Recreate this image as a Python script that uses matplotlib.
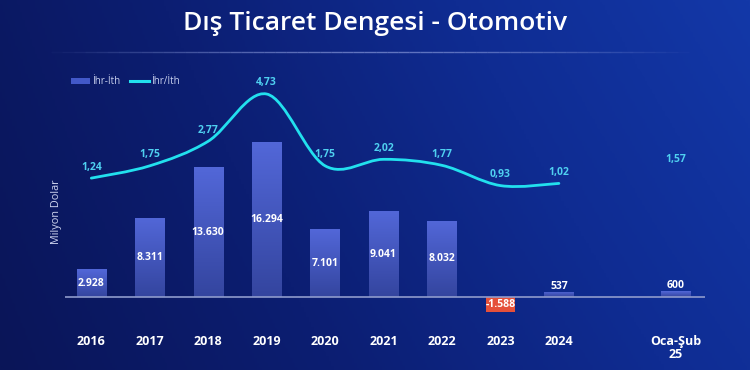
import numpy as np
import matplotlib
matplotlib.use("Agg")
import matplotlib.pyplot as plt
from matplotlib.path import Path
from matplotlib.patches import PathPatch, Rectangle
from matplotlib.lines import Line2D
from matplotlib.collections import LineCollection
from matplotlib.colors import LinearSegmentedColormap

categories = ["2016", "2017", "2018", "2019", "2020", "2021", "2022", "2023", "2024", "Oca-Şub\n25"]
balance = [2928, 8311, 13630, 16294, 7101, 9041, 8032, -1588, 537, 600]
balance_labels = ["2.928", "8.311", "13.630", "16.294", "7.101", "9.041", "8.032", "-1.588", "537", "600"]
ratio = [1.24, 1.75, 2.77, 4.73, 1.75, 2.02, 1.77, 0.93, 1.02, 1.57]
ratio_labels = ["1,24", "1,75", "2,77", "4,73", "1,75", "2,02", "1,77", "0,93", "1,02", "1,57"]
n_line = 9  # line drawn for yearly points only

plt.rcParams['font.family'] = ['Open Sans', 'DejaVu Sans']

W, H = 750, 370
fig = plt.figure(figsize=(W / 100, H / 100), dpi=100)

# background gradient
bg = fig.add_axes([0, 0, 1, 1])
bg.set_axis_off()
xx, yy = np.meshgrid(np.linspace(0, 1, 300), np.linspace(0, 1, 150))
g = np.clip(0.75 * xx + 0.15 * (1 - yy) + 0.1 * xx * (1 - yy), 0, 1)
bg_cmap = LinearSegmentedColormap.from_list("bg", ["#0a1558", "#0c1e72", "#0f2c92", "#1338a8"])
bg.imshow(g, cmap=bg_cmap, aspect="auto", extent=[0, 1, 0, 1], origin="upper")
bg.set_xlim(0, 1)
bg.set_ylim(0, 1)

# thin line under the title
lx = np.linspace(40 / W, 700 / W, 60)
ly = np.full_like(lx, 1 - 52 / H)
segs = np.stack([np.column_stack([lx[:-1], ly[:-1]]), np.column_stack([lx[1:], ly[1:]])], axis=1)
alph = np.sin(np.linspace(0, np.pi, len(lx) - 1)) * 0.6
cols = [(0.6, 0.66, 0.9, a) for a in alph]
bg.add_collection(LineCollection(segs, colors=cols, lw=1.0))

# axes geometry
top_px, bot_px = 60, 320
left_px, right_px = 65, 705
ax = fig.add_axes([left_px / W, (H - bot_px) / H, (right_px - left_px) / W, (bot_px - top_px) / H])
ax.set_facecolor("none")
for s in ax.spines.values():
    s.set_visible(False)

xpos = np.r_[np.arange(9), 10]
ax.set_xlim(-0.45, 10.5)
bscale = 0.00951  # px per unit
ax.set_ylim(-(bot_px - 297) / bscale, (297 - top_px) / bscale)

bar_cmap = LinearSegmentedColormap.from_list("bar", ["#34459f", "#5267d8"])
bars = ax.bar(xpos, balance, width=0.5, color="none", edgecolor="none", zorder=2)
for b, v in zip(bars, balance):
    x0, w = b.get_x(), b.get_width()
    y0, h = b.get_y(), b.get_height()
    if v < 0:
        r = Rectangle((x0, y0), w, h, facecolor="#e5503a", edgecolor="none", zorder=2)
        ax.add_patch(r)
    else:
        grad = np.linspace(1, 0, 100).reshape(-1, 1)
        im = ax.imshow(grad, cmap=bar_cmap, aspect="auto",
                       extent=[x0, x0 + w, y0, y0 + h], zorder=2, vmin=0, vmax=1)
        im.set_clip_path(b)
        b.set_facecolor("none")

ax.axhline(0, color="#8f9bcc", lw=1.2, zorder=3)

for x, v, lab in zip(xpos, balance, balance_labels):
    if abs(v) < 1200 and v > 0:
        ax.text(x, v, lab, ha="center", va="bottom", color="white", fontsize=7.5, fontweight="bold", zorder=5)
    else:
        ax.text(x, v / 2, lab, ha="center", va="center", color="white", fontsize=7.5, fontweight="bold", zorder=5)

ax.set_xticks(xpos)
ax.set_xticklabels(categories, color="white", fontsize=9, fontweight="bold", linespacing=1.0)
ax.tick_params(axis="x", length=0, pad=11)
ax.set_yticks([])

# line axis
ax2 = ax.twinx()
ax2.set_facecolor("none")
for s in ax2.spines.values():
    s.set_visible(False)
lscale = 24.1
ax2.set_ylim(-(bot_px - 208) / lscale, (208 - top_px) / lscale)
ax2.set_yticks([])

# smooth line (Catmull-Rom via cubic Bezier)
px = xpos[:n_line].astype(float)
py = np.array(ratio[:n_line])
verts = [(px[0], py[0])]
codes = [Path.MOVETO]
for i in range(len(px) - 1):
    p0 = (px[i - 1], py[i - 1]) if i > 0 else (px[i], py[i])
    p1 = (px[i], py[i])
    p2 = (px[i + 1], py[i + 1])
    p3 = (px[i + 2], py[i + 2]) if i + 2 < len(px) else p2
    t = 1.0 / 3
    c1 = (p1[0] + (p2[0] - p0[0]) * t / 2, p1[1] + (p2[1] - p0[1]) * t / 2)
    c2 = (p2[0] - (p3[0] - p1[0]) * t / 2, p2[1] - (p3[1] - p1[1]) * t / 2)
    verts += [c1, c2, p2]
    codes += [Path.CURVE4] * 3
ax2.add_patch(PathPatch(Path(verts, codes), facecolor="none", edgecolor="#22e0ee", lw=2.0,
                        capstyle="round", zorder=6))

for x, v, lab in zip(xpos, ratio, ratio_labels):
    ax2.annotate(lab, (x, v), xytext=(0, 4), textcoords="offset points", ha="center", va="bottom",
                 color="#4fd0f0", fontsize=7.5, fontweight="bold", zorder=7)

# title
fig.text(0.5, 1 - 23 / H, "Dış Ticaret Dengesi - Otomotiv", ha="center", va="center",
         color="white", fontsize=19, fontweight="semibold")

# y label
fig.text(56 / W, 1 - 212 / H, "Milyon Dolar", rotation=90, ha="center", va="center",
         color="#d0d6f0", fontsize=7.8)

# legend
handles = [Rectangle((0, 0), 1, 1, facecolor="#4258c8", edgecolor="none"),
           Line2D([0], [0], color="#22e0ee", lw=2.2)]
fig.legend(handles, ["İhr-İth", "İhr/İth"], loc="center left", bbox_to_anchor=(62 / W, 1 - 82 / H),
           ncol=2, frameon=False, fontsize=7, labelcolor="#c8d0ee", handlelength=2.0,
           handletextpad=0.2, columnspacing=1.0, handleheight=0.6)

fig.savefig("out.png", dpi=100)
